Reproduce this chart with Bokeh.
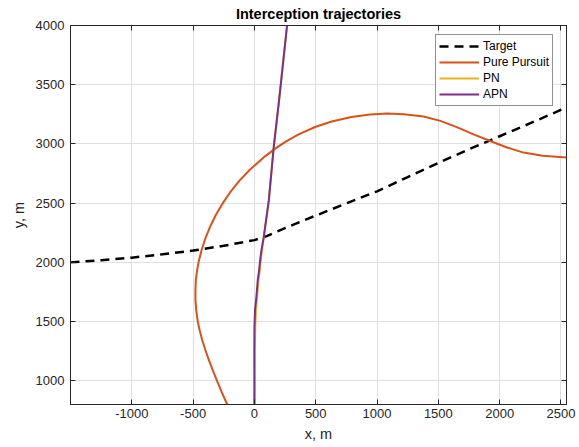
from bokeh.plotting import figure
from bokeh.models import Range1d, FixedTicker, LinearAxis, Legend, LegendItem
from bokeh.embed import file_html
from bokeh.resources import INLINE

# ---- data ----
target_x = [-1500, -1250, -1000, -750, -500, -250, 0, 100, 250, 500, 750, 1000,
            1250, 1500, 1750, 2000, 2250, 2550]
target_y = [2000, 2018, 2040, 2068, 2100, 2140, 2188, 2222, 2290, 2395, 2498, 2600,
            2720, 2840, 2955, 3065, 3175, 3310]

pp_x = [-222, -265, -304, -340, -372, -400, -426, -446, -462, -474, -481, -481,
        -478, -468, -454, -432, -401, -362, -315, -258, -199, -122, -40, 86, 167,
        255, 360, 495, 630, 790, 944, 1081, 1218, 1380, 1516, 1650, 1787, 1923,
        2060, 2195, 2350, 2548]
pp_y = [800, 900, 997, 1090, 1176, 1260, 1345, 1425, 1499, 1590, 1681, 1765,
        1849, 1930, 2010, 2100, 2200, 2300, 2400, 2500, 2590, 2690, 2780, 2895, 2958,
        3020, 3081, 3143, 3190, 3228, 3248, 3256, 3250, 3232, 3195, 3142, 3081, 3025,
        2970, 2927, 2900, 2885]

pn_x = [0, 1, 3, 7, 13, 22, 33, 44, 55, 62, 76, 117, 157, 200, 266]
pn_y = [800, 1000, 1250, 1450, 1600, 1709, 1849, 1933, 2050, 2101, 2213, 2521, 2969, 3360, 4000]

apn_x = [0, 0, -1, 0, 5, 16, 27, 38, 50, 57, 76, 117, 157, 200, 266]
apn_y = [800, 1000, 1250, 1450, 1600, 1709, 1849, 1933, 2050, 2101, 2213, 2521, 2969, 3360, 4000]

x_ticks = [-1000, -500, 0, 500, 1000, 1500, 2000, 2500]
x_tick_labels = ["-1000", "-500", "0", "500", "1000", "1500", "2000", "2500"]
y_ticks = [1000, 1500, 2000, 2500, 3000, 3500, 4000]

FONT = "Liberation Sans"
TXT = "#262626"

p = figure(width=579, height=447, output_backend="svg", toolbar_location=None,
           x_range=Range1d(-1500, 2545), y_range=Range1d(800, 4000),
           min_border_left=70, min_border_right=13, min_border_top=24,
           min_border_bottom=43, background_fill_color="white",
           border_fill_color="white")

p.title.text = "Interception trajectories"
p.title.align = "center"
p.title.text_font = FONT
p.title.text_font_size = "14.5px"
p.title.text_font_style = "bold"
p.title.text_color = "black"
p.title.standoff = 7

for ax, ticks in ((p.xaxis[0], x_ticks), (p.yaxis[0], y_ticks)):
    ax.ticker = FixedTicker(ticks=ticks)
    ax.major_tick_in = 5
    ax.major_tick_out = 0
    ax.minor_tick_in = 0
    ax.minor_tick_out = 0
    ax.axis_line_color = TXT
    ax.major_tick_line_color = TXT
    ax.major_label_text_font = FONT
    ax.major_label_text_font_size = "13px"
    ax.major_label_text_color = TXT
    ax.axis_label_text_font = FONT
    ax.axis_label_text_font_size = "14.5px"
    ax.axis_label_text_font_style = "normal"
    ax.axis_label_text_color = TXT

p.xaxis.major_label_overrides = {t: s for t, s in zip(x_ticks, x_tick_labels)}
p.xaxis.axis_label = "x, m"
p.yaxis.axis_label = "y, m"
p.xaxis.major_label_standoff = 4
p.yaxis.major_label_standoff = 6
p.xaxis.axis_label_standoff = 5
p.yaxis.axis_label_standoff = 6

# tick marks on the top and right frame edges (no labels): minor ticks only
for loc, ticks in (("above", x_ticks), ("right", y_ticks)):
    a = LinearAxis(ticker=FixedTicker(ticks=[], minor_ticks=ticks), major_tick_in=0,
                   major_tick_out=0, minor_tick_in=5, minor_tick_out=0,
                   axis_line_color=TXT, minor_tick_line_color=TXT,
                   major_label_standoff=0)
    p.add_layout(a, loc)

p.grid.grid_line_color = "#e0e0e0"
p.grid.grid_line_width = 1
p.outline_line_color = TXT

r_t = p.line(target_x, target_y, line_color="black", line_width=2.5, line_dash="9 6")
r_pp = p.line(pp_x, pp_y, line_color="#D95319", line_width=2)
r_pn = p.line(pn_x, pn_y, line_color="#EDB120", line_width=2)
r_apn = p.line(apn_x, apn_y, line_color="#7E2F8E", line_width=2)

legend = Legend(items=[LegendItem(label="Target", renderers=[r_t]),
                       LegendItem(label="Pure Pursuit", renderers=[r_pp]),
                       LegendItem(label="PN", renderers=[r_pn]),
                       LegendItem(label="APN", renderers=[r_apn])],
                location=(365, 298), glyph_width=40, glyph_height=16,
                label_height=16, spacing=0, padding=3, margin=0,
                label_text_font=FONT, label_text_font_size="12px",
                label_text_color="black", label_standoff=4,
                border_line_color=TXT, border_line_width=1,
                background_fill_color="white", background_fill_alpha=1)
p.add_layout(legend)

open("out.html", "w").write(file_html(p, INLINE))
